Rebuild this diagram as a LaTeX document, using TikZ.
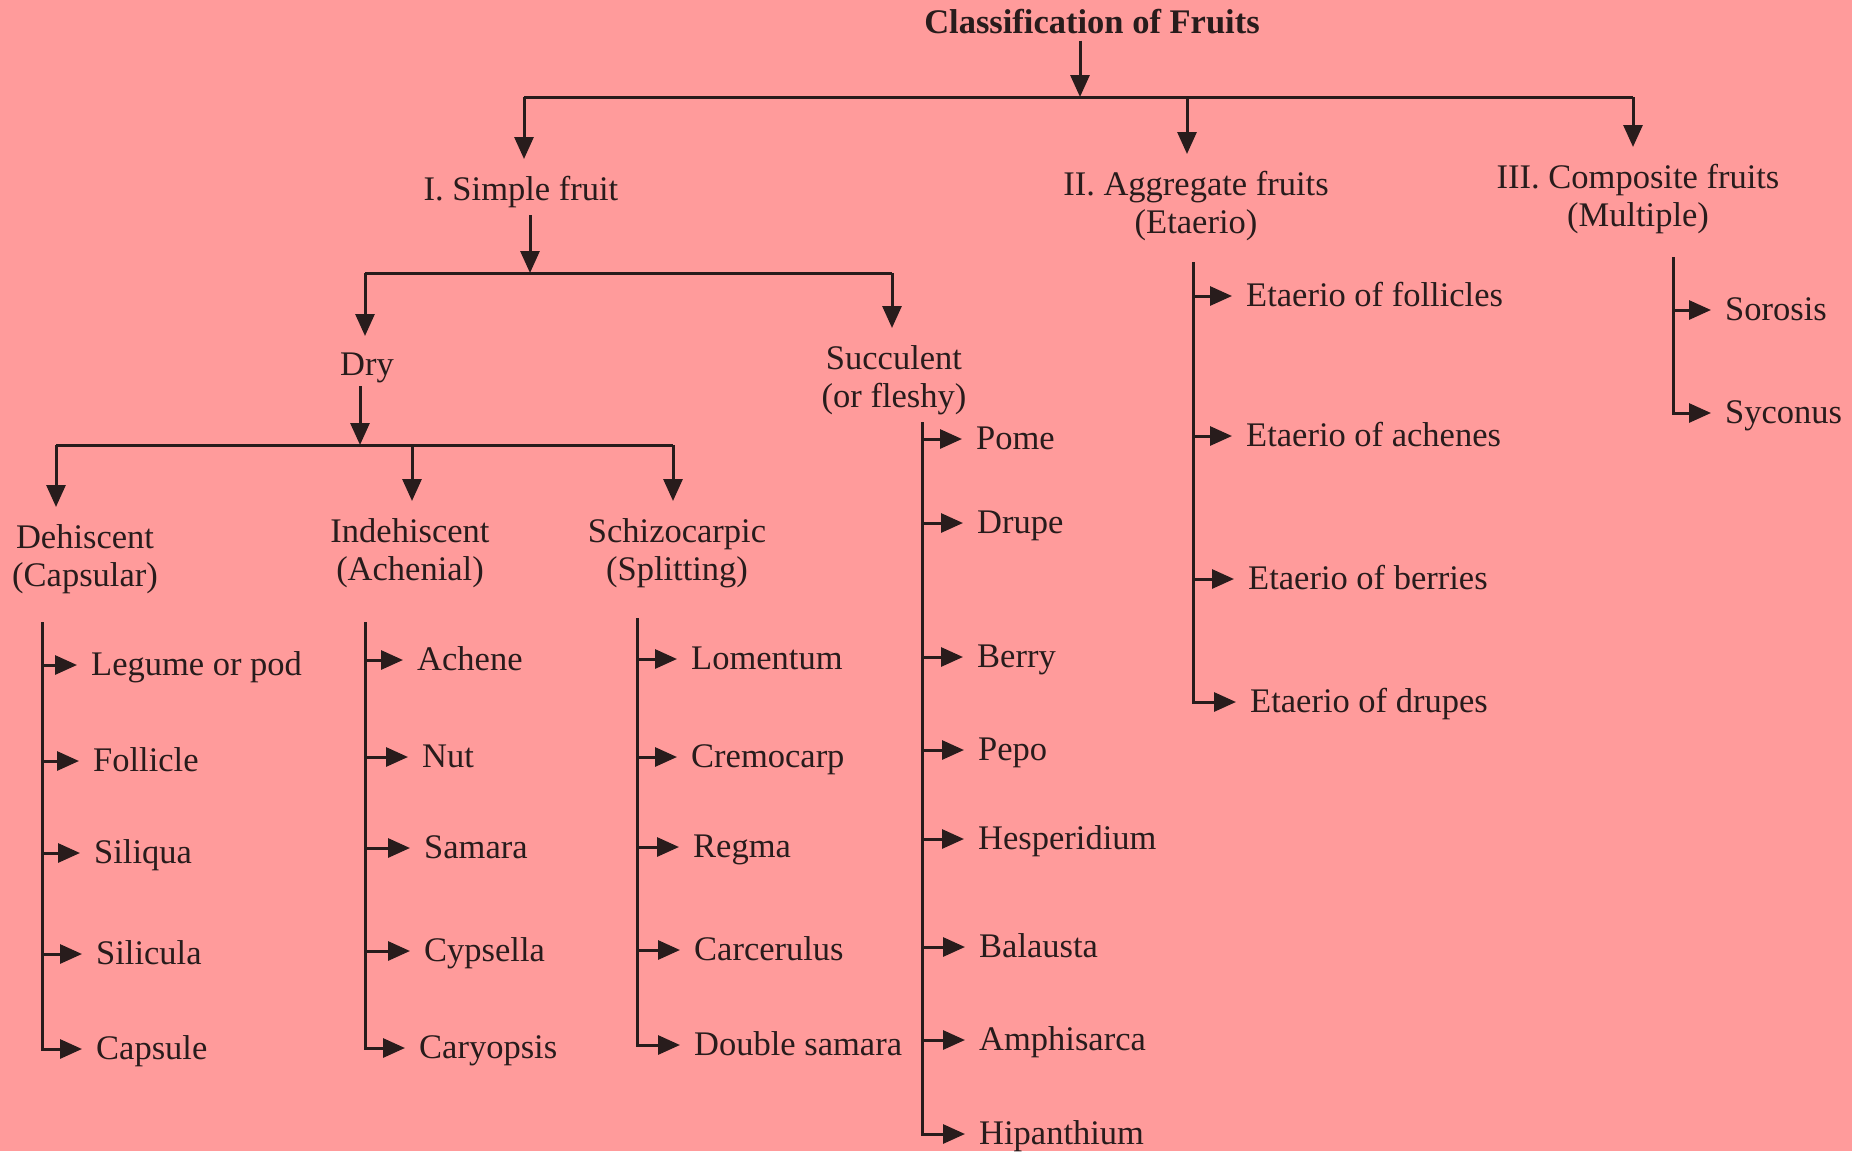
\documentclass[tikz,border=0pt]{standalone}
\usepackage{fontspec}
\setmainfont{Liberation Serif}
\usetikzlibrary{arrows.meta}
\definecolor{bg}{RGB}{255,155,155}
\definecolor{ink}{RGB}{40,28,28}
\begin{document}
\begin{tikzpicture}[x=1pt,y=-1pt,
  every node/.style={font=\fontsize{34.5}{38}\selectfont, text=ink, inner sep=0pt},
  hdr/.style={anchor=north, align=center},
  item/.style={anchor=west, text height=26pt, text depth=6pt},
  ln/.style={draw=ink, line width=3pt},
  arr/.style={ln, -{Triangle[length=22pt,width=19pt]}},
  into/.style={arr, shorten >=17pt},
  tick/.style={arr, shorten >=14pt}
]
\fill[bg] (0,0) rectangle (1852,1151);
\useasboundingbox (0,0) rectangle (1852,1151);

% title and first level
\node[anchor=base, font=\fontsize{34.5}{38}\selectfont\bfseries] (title) at (1092,33) {Classification of Fruits};
\coordinate (b1) at (1080,97);
\coordinate (b1L) at (524,97);
\coordinate (b1M) at (1187,97);
\coordinate (b1R) at (1633,97);
\node[hdr] (simple) at (521,176) {I. Simple fruit};
\node[hdr] (aggr) at (1196,171) {II. Aggregate fruits\\(Etaerio)};
\node[hdr] (comp) at (1638,164) {III. Composite fruits\\(Multiple)};
\draw[arr, shorten <=7pt] (b1 |- title.south) -- (b1);
\draw[ln] (b1L) -- (b1R);
\draw[into] (b1L) -- (b1L |- simple.north);
\draw[into] (b1M) -- (b1M |- aggr.north);
\draw[into] (b1R) -- (b1R |- comp.north);

% simple fruit
\coordinate (b2) at (530,273);
\coordinate (b2L) at (365,273);
\coordinate (b2R) at (892,273);
\node[hdr] (dry) at (367,353) {Dry};
\node[hdr] (succ) at (894,345) {Succulent\\(or fleshy)};
\draw[arr, shorten <=7pt] (b2 |- simple.south) -- (b2);
\draw[ln] (b2L) -- (b2R);
\draw[into] (b2L) -- (b2L |- dry.north);
\draw[into] (b2R) -- (b2R |- succ.north);

% dry
\coordinate (b3) at (360,445);
\coordinate (b3L) at (56,445);
\coordinate (b3M) at (412,445);
\coordinate (b3R) at (673,445);
\node[hdr] (deh) at (85,524) {Dehiscent\\(Capsular)};
\node[hdr] (ind) at (410,518) {Indehiscent\\(Achenial)};
\node[hdr] (sch) at (677,518) {Schizocarpic\\(Splitting)};
\draw[arr, shorten <=3pt] (b3 |- dry.south) -- (b3);
\draw[ln] (b3L) -- (b3R);
\draw[into] (b3L) -- (b3L |- deh.north);
\draw[into] (b3M) -- (b3M |- ind.north);
\draw[into] (b3R) -- (b3R |- sch.north);

% dehiscent list
\coordinate (dehTop) at (42,622);
\node[item] (d1) at (91,665) {Legume or pod};
\node[item] (d2) at (93,761) {Follicle};
\node[item] (d3) at (94,853) {Siliqua};
\node[item] (d4) at (96,954) {Silicula};
\node[item] (d5) at (96,1049) {Capsule};
\foreach \n in {d1,d2,d3,d4}{\draw[tick] (dehTop |- \n.west) -- (\n.west);}
\draw[tick] (dehTop) |- (d5.west);

% indehiscent list
\coordinate (indTop) at (365,622);
\node[item] (i1) at (417,660) {Achene};
\node[item] (i2) at (422,757) {Nut};
\node[item] (i3) at (424,848) {Samara};
\node[item] (i4) at (424,951) {Cypsella};
\node[item] (i5) at (419,1048) {Caryopsis};
\foreach \n in {i1,i2,i3,i4}{\draw[tick] (indTop |- \n.west) -- (\n.west);}
\draw[tick] (indTop) |- (i5.west);

% schizocarpic list
\coordinate (schTop) at (637,618);
\node[item] (s1) at (691,659) {Lomentum};
\node[item] (s2) at (691,757) {Cremocarp};
\node[item] (s3) at (693,847) {Regma};
\node[item] (s4) at (694,950) {Carcerulus};
\node[item] (s5) at (694,1045) {Double samara};
\foreach \n in {s1,s2,s3,s4}{\draw[tick] (schTop |- \n.west) -- (\n.west);}
\draw[tick] (schTop) |- (s5.west);

% succulent list
\coordinate (sucTop) at (922,422);
\node[item] (u1) at (976,439) {Pome};
\node[item] (u2) at (977,523) {Drupe};
\node[item] (u3) at (977,657) {Berry};
\node[item] (u4) at (978,750) {Pepo};
\node[item] (u5) at (978,839) {Hesperidium};
\node[item] (u6) at (979,947) {Balausta};
\node[item] (u7) at (979,1040) {Amphisarca};
\node[item] (u8) at (979,1134) {Hipanthium};
\foreach \n in {u1,u2,u3,u4,u5,u6,u7}{\draw[tick] (sucTop |- \n.west) -- (\n.west);}
\draw[tick] (sucTop) |- (u8.west);

% aggregate list
\coordinate (aggTop) at (1193,262);
\node[item] (a1) at (1246,296) {Etaerio of follicles};
\node[item] (a2) at (1246,436) {Etaerio of achenes};
\node[item] (a3) at (1248,579) {Etaerio of berries};
\node[item] (a4) at (1250,702) {Etaerio of drupes};
\foreach \n in {a1,a2,a3}{\draw[tick] (aggTop |- \n.west) -- (\n.west);}
\draw[tick] (aggTop) |- (a4.west);

% composite list
\coordinate (comTop) at (1673,257);
\node[item] (c1) at (1725,310) {Sorosis};
\node[item] (c2) at (1725,413) {Syconus};
\draw[tick] (comTop |- c1.west) -- (c1.west);
\draw[tick] (comTop) |- (c2.west);
\end{tikzpicture}
\end{document}
